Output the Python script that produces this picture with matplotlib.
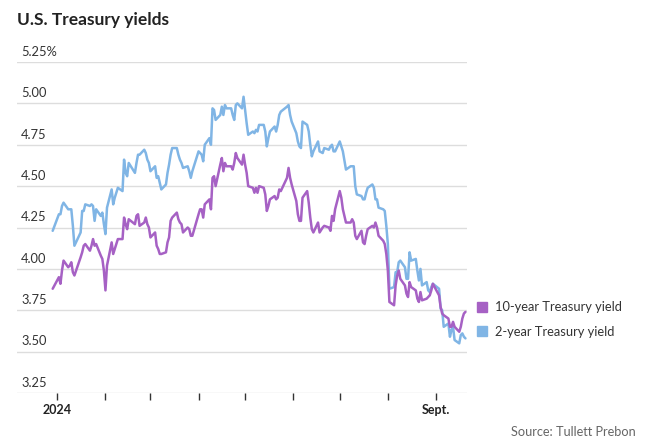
import pandas as pd
import matplotlib as mpl

## agg backend, no display
mpl.use('agg')

import matplotlib.pyplot as plt
from matplotlib.lines import Line2D

plt.rcParams['font.family'] = ['Lato', 'DejaVu Sans']

# market holidays (bond market closed)
holidays = ['2024-01-01', '2024-01-15', '2024-02-19', '2024-03-29',
            '2024-05-27', '2024-06-19', '2024-07-04', '2024-09-02']

# daily closes, Dec 29 2023 -> Sep 20 2024
ten_year = [3.88,
    # Jan
    3.95, 3.91, 3.99, 4.05, 4.01, 4.02, 4.04, 3.98, 3.96, 4.07, 4.10, 4.14, 4.15,
    4.11, 4.14, 4.18, 4.14, 4.15, 4.08, 4.06, 3.99,
    # Feb
    3.87, 4.02, 4.16, 4.09, 4.12, 4.15, 4.18, 4.18, 4.31, 4.27, 4.24, 4.30, 4.27,
    4.32, 4.33, 4.26, 4.28, 4.31, 4.27, 4.25,
    # Mar
    4.19, 4.22, 4.14, 4.12, 4.09, 4.09, 4.10, 4.16, 4.19, 4.29, 4.31, 4.34, 4.30,
    4.28, 4.27, 4.22, 4.25, 4.24, 4.20, 4.20,
    # Apr
    4.33, 4.36, 4.36, 4.31, 4.39, 4.42, 4.36, 4.55, 4.56, 4.50, 4.63, 4.67, 4.59,
    4.64, 4.62, 4.62, 4.60, 4.64, 4.70, 4.67, 4.63, 4.69,
    # May
    4.63, 4.58, 4.50, 4.49, 4.46, 4.49, 4.46, 4.50, 4.49, 4.45, 4.35, 4.38, 4.42,
    4.44, 4.42, 4.43, 4.48, 4.47, 4.55, 4.61, 4.55, 4.51,
    # Jun
    4.41, 4.33, 4.29, 4.29, 4.43, 4.47, 4.40, 4.31, 4.24, 4.22, 4.28, 4.22, 4.25,
    4.26, 4.25, 4.23, 4.32, 4.29, 4.36,
    # Jul
    4.47, 4.43, 4.36, 4.28, 4.28, 4.30, 4.28, 4.20, 4.18, 4.23, 4.16, 4.15, 4.20,
    4.24, 4.26, 4.25, 4.28, 4.25, 4.20, 4.17, 4.15, 4.09,
    # Aug
    3.99, 3.80, 3.78, 3.90, 3.96, 3.99, 3.94, 3.90, 3.85, 3.83, 3.92, 3.89, 3.87,
    3.82, 3.80, 3.86, 3.81, 3.82, 3.83, 3.84, 3.87, 3.91,
    # Sep
    3.84, 3.77, 3.73, 3.72, 3.70, 3.65, 3.65, 3.68, 3.65, 3.62, 3.65, 3.70, 3.73, 3.74]

two_year = [4.23,
    # Jan
    4.33, 4.33, 4.38, 4.40, 4.36, 4.36, 4.36, 4.26, 4.14, 4.22, 4.35, 4.35, 4.39,
    4.38, 4.39, 4.38, 4.29, 4.36, 4.32, 4.34, 4.27,
    # Feb
    4.21, 4.37, 4.48, 4.39, 4.43, 4.46, 4.49, 4.47, 4.66, 4.58, 4.56, 4.64, 4.58,
    4.64, 4.69, 4.69, 4.72, 4.70, 4.66, 4.64,
    # Mar
    4.59, 4.62, 4.55, 4.56, 4.52, 4.48, 4.51, 4.58, 4.63, 4.69, 4.73, 4.73, 4.69,
    4.66, 4.64, 4.61, 4.62, 4.59, 4.55, 4.59,
    # Apr
    4.71, 4.70, 4.69, 4.65, 4.75, 4.79, 4.75, 4.97, 4.96, 4.90, 4.93, 4.98, 4.93,
    4.99, 4.97, 4.97, 4.93, 4.90, 4.99, 5.00, 4.97, 5.04,
    # May
    4.96, 4.88, 4.81, 4.83, 4.82, 4.84, 4.83, 4.87, 4.87, 4.83, 4.74, 4.79, 4.83,
    4.86, 4.83, 4.87, 4.93, 4.95, 4.98, 4.99, 4.93, 4.89,
    # Jun
    4.82, 4.77, 4.74, 4.73, 4.89, 4.87, 4.83, 4.75, 4.68, 4.71, 4.77, 4.71, 4.70,
    4.73, 4.72, 4.74, 4.75, 4.71, 4.71,
    # Jul
    4.77, 4.74, 4.71, 4.60, 4.62, 4.62, 4.62, 4.50, 4.45, 4.44, 4.42, 4.42, 4.46,
    4.49, 4.51, 4.49, 4.42, 4.42, 4.37, 4.36, 4.35, 4.26,
    # Aug
    4.15, 3.88, 3.89, 3.98, 3.98, 4.04, 4.05, 4.01, 3.94, 3.94, 4.10, 4.05, 4.06,
    3.99, 3.93, 4.00, 3.90, 3.92, 3.87, 3.86, 3.89, 3.91,
    # Sep
    3.88, 3.76, 3.75, 3.65, 3.67, 3.59, 3.63, 3.65, 3.57, 3.55, 3.60, 3.61, 3.59, 3.58]

series_names = ['10-year Treasury yield', '2-year Treasury yield']
series_colors = ['#a661c4', '#80b5e5']

y_ticks = [3.25, 3.50, 3.75, 4.00, 4.25, 4.50, 4.75, 5.00, 5.25]
y_labels = ['3.25', '3.50', '3.75', '4.00', '4.25', '4.50', '4.75', '5.00', '5.25%']
month_labels = ['2024', '', '', '', '', '', '', '', 'Sept.']

dates = pd.bdate_range('2023-12-29', '2024-09-20', freq='C', holidays=holidays)
df = pd.DataFrame({'ten': ten_year, 'two': two_year}, index=dates)

fig = plt.figure(figsize=(6.49, 4.46), dpi=100)
ax = fig.add_axes([17 / 649, 1 - 393 / 446, 450 / 649, 331 / 446])

ax.plot(df.index, df['two'], color=series_colors[1], lw=1.8,
        solid_joinstyle='round', solid_capstyle='round')
ax.plot(df.index, df['ten'], color=series_colors[0], lw=1.8,
        solid_joinstyle='round', solid_capstyle='round')

ax.set_ylim(3.25, 5.25)
ax.set_xlim(pd.Timestamp('2023-12-06'), pd.Timestamp('2024-09-21'))

## gridlines, no spines
for s in ax.spines.values():
    s.set_visible(False)
ax.set_yticks(y_ticks)
ax.yaxis.grid(True, color='#dddddd', lw=1)
ax.tick_params(axis='y', length=0, labelleft=False)
for v, lab in zip(y_ticks, y_labels):
    ax.annotate(lab, xy=(0, v), xycoords=('axes fraction', 'data'),
                xytext=(3, 3), textcoords='offset points',
                ha='left', va='bottom', fontsize=9.3, color='#333333')

month_ticks = pd.date_range('2024-01-01', '2024-09-01', freq='MS')
ax.set_xticks(month_ticks)
ax.set_xticklabels(month_labels, fontsize=9, fontweight='bold', color='#222222')
ax.tick_params(axis='x', length=5, width=1, color='#333333', pad=3)

## title and source
fig.text(17 / 649, 1 - 20 / 446, 'U.S. Treasury yields', fontsize=12.5,
         fontweight='bold', color='#222222', va='center', ha='left')
fig.text(636 / 649, 1 - 432 / 446, 'Source: Tullett Prebon', fontsize=9.2,
         color='#666666', va='center', ha='right')

## legend on the right
handles = [Line2D([], [], ls='none', marker='s', markersize=7, color=c)
           for c in series_colors]
fig.legend(handles, series_names, loc='center left',
           bbox_to_anchor=(477 / 649, 1 - 319.5 / 446), frameon=False,
           fontsize=9.3, handlelength=0.8, handletextpad=0.6, labelspacing=0.95,
           borderpad=0, borderaxespad=0, labelcolor='#333333')

fig.savefig('out.png', dpi=100)
